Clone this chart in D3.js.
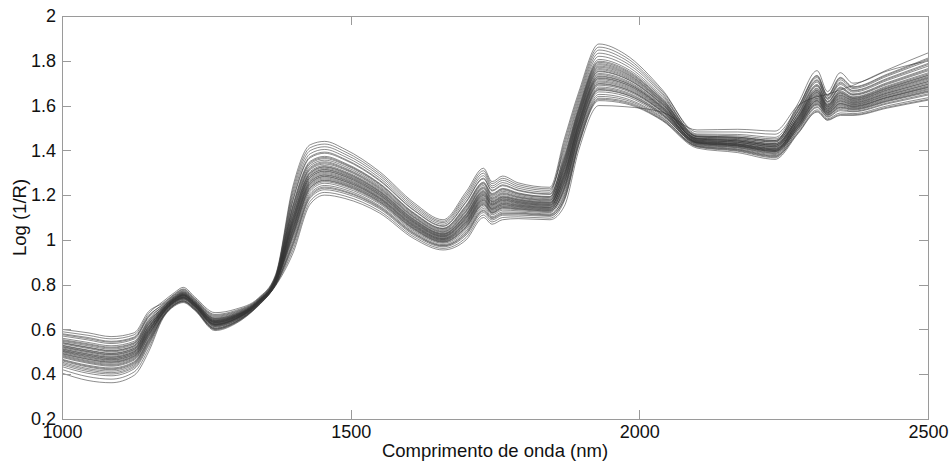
<!DOCTYPE html>
<html>
<head>
<meta charset="utf-8">
<script src="https://cdn.jsdelivr.net/npm/d3@7"></script>
<style>
  html, body { margin: 0; padding: 0; background: #ffffff; }
  svg { display: block; font-family: "Liberation Sans", Arial, sans-serif; }
</style>
</head>
<body>
<script>
// Wavelength grid (nm) shared by every spectrum
const wavelengths = [1000, 1045, 1085, 1125, 1150, 1175, 1195, 1210, 1230, 1265, 1300, 1340, 1370,
  1400, 1430, 1455, 1490, 1550, 1610, 1660, 1700, 1730, 1745, 1763, 1790, 1845,
  1870, 1895, 1930, 1975, 2040, 2100, 2170, 2235,
  2275, 2308, 2326, 2348, 2370, 2430, 2500];

// Log(1/R) spectra, one array per sample
const s01 = [0.600,0.585,0.568,0.585, 0.680,0.718,0.759,0.781,0.739,0.667,0.684,0.737,0.840,
  1.225,1.412,1.428,1.394,1.296,1.157,1.083,1.204,1.309,1.251,1.275,1.247,1.228,
  1.405,1.621,1.834,1.794,1.648, 1.460,1.453,1.437, 1.610,1.756,1.662,1.747,1.700,1.755,1.800];
const s02 = [0.590,0.574,0.558,0.576, 0.671,0.725,0.765,0.788,0.745,0.675,0.690,0.740,0.845,
  1.240,1.425,1.440,1.405,1.305,1.165,1.090,1.215,1.320,1.260,1.285,1.255,1.235,
  1.450,1.660,1.875,1.830,1.670, 1.473,1.471,1.458, 1.592,1.731,1.645,1.722,1.681,1.737,1.807];
const s03 = [0.581,0.564,0.547,0.566, 0.662,0.710,0.753,0.774,0.733,0.659,0.677,0.733,0.835,
  1.195,1.385,1.404,1.372,1.277,1.141,1.070,1.183,1.287,1.232,1.256,1.231,1.213,
  1.420,1.634,1.848,1.806,1.655, 1.464,1.459,1.444, 1.588,1.725,1.641,1.715,1.676,1.732,1.800];
const s04 = [0.571,0.553,0.537,0.557, 0.653,0.703,0.747,0.768,0.727,0.651,0.671,0.730,0.830,
  1.180,1.372,1.392,1.361,1.268,1.133,1.063,1.172,1.276,1.222,1.246,1.223,1.206,
  1.375,1.595,1.806,1.770,1.633, 1.455,1.448,1.430, 1.580,1.715,1.634,1.705,1.668,1.722,1.788];
const s05 = [0.561,0.542,0.527,0.547, 0.644,0.706,0.750,0.771,0.730,0.655,0.674,0.731,0.833,
  1.150,1.346,1.368,1.339,1.250,1.117,1.050,1.151,1.254,1.203,1.227,1.207,1.192,
  1.390,1.608,1.820,1.782,1.640, 1.469,1.465,1.451, 1.573,1.705,1.627,1.694,1.660,1.713,1.776];
const s06 = [0.555,0.536,0.521,0.541, 0.639,0.695,0.741,0.761,0.721,0.643,0.664,0.726,0.825,
  1.156,1.351,1.373,1.343,1.253,1.120,1.052,1.155,1.258,1.207,1.230,1.210,1.194,
  1.354,1.577,1.787,1.753,1.622, 1.451,1.442,1.423, 1.565,1.694,1.619,1.683,1.652,1.703,1.765];
const s07 = [0.547,0.527,0.512,0.534, 0.631,0.699,0.744,0.764,0.724,0.647,0.667,0.728,0.828,
  1.135,1.332,1.356,1.328,1.240,1.109,1.043,1.140,1.243,1.194,1.217,1.199,1.184,
  1.360,1.582,1.793,1.758,1.625, 1.460,1.453,1.437, 1.559,1.686,1.614,1.675,1.646,1.695,1.755];
const s08 = [0.542,0.521,0.506,0.528, 0.626,0.691,0.738,0.757,0.718,0.639,0.661,0.724,0.823,
  1.120,1.319,1.344,1.317,1.231,1.101,1.036,1.129,1.232,1.184,1.207,1.191,1.177,
  1.336,1.561,1.771,1.739,1.613, 1.446,1.436,1.416, 1.553,1.678,1.608,1.666,1.639,1.688,1.746];
const s09 = [0.536,0.515,0.500,0.522, 0.621,0.688,0.735,0.754,0.715,0.635,0.658,0.723,0.820,
  1.126,1.324,1.349,1.321,1.235,1.104,1.039,1.133,1.236,1.188,1.211,1.194,1.180,
  1.324,1.551,1.760,1.729,1.607, 1.455,1.448,1.430, 1.550,1.674,1.605,1.662,1.636,1.684,1.741];
const s10 = [0.530,0.508,0.494,0.517, 0.615,0.694,0.740,0.759,0.720,0.641,0.663,0.725,0.824,
  1.105,1.306,1.332,1.306,1.222,1.093,1.029,1.118,1.221,1.175,1.197,1.183,1.170,
  1.315,1.543,1.751,1.722,1.603, 1.451,1.442,1.423, 1.546,1.667,1.601,1.656,1.631,1.678,1.734];
const s11 = [0.524,0.502,0.488,0.511, 0.610,0.684,0.732,0.751,0.712,0.631,0.654,0.721,0.818,
  1.096,1.298,1.325,1.299,1.216,1.088,1.025,1.112,1.214,1.169,1.191,1.178,1.165,
  1.330,1.556,1.765,1.734,1.610, 1.442,1.430,1.409, 1.543,1.663,1.598,1.652,1.628,1.675,1.729];
const s12 = [0.518,0.496,0.481,0.505, 0.604,0.689,0.736,0.755,0.716,0.637,0.659,0.723,0.821,
  1.090,1.293,1.320,1.295,1.213,1.085,1.023,1.108,1.210,1.165,1.188,1.175,1.163,
  1.300,1.530,1.738,1.710,1.595, 1.448,1.438,1.419, 1.538,1.657,1.594,1.645,1.623,1.669,1.722];
const s13 = [0.514,0.491,0.477,0.501, 0.601,0.680,0.729,0.747,0.709,0.627,0.651,0.719,0.815,
  1.081,1.285,1.313,1.288,1.207,1.080,1.018,1.101,1.203,1.159,1.182,1.170,1.158,
  1.291,1.522,1.729,1.703,1.591, 1.437,1.425,1.402, 1.532,1.649,1.588,1.637,1.617,1.661,1.713];
const s14 = [0.508,0.485,0.471,0.496, 0.595,0.686,0.734,0.753,0.714,0.633,0.656,0.722,0.819,
  1.072,1.277,1.306,1.282,1.201,1.075,1.014,1.095,1.197,1.154,1.176,1.165,1.154,
  1.306,1.535,1.743,1.715,1.598, 1.446,1.436,1.416, 1.528,1.643,1.584,1.630,1.612,1.656,1.706];
const s15 = [0.503,0.479,0.465,0.490, 0.590,0.676,0.726,0.744,0.706,0.623,0.648,0.717,0.813,
  1.060,1.266,1.296,1.273,1.194,1.069,1.009,1.086,1.188,1.146,1.168,1.159,1.148,
  1.276,1.509,1.716,1.691,1.583, 1.440,1.428,1.406, 1.525,1.639,1.581,1.626,1.609,1.652,1.701];
const s16 = [0.497,0.472,0.459,0.484, 0.585,0.682,0.730,0.749,0.710,0.629,0.652,0.720,0.816,
  1.054,1.261,1.291,1.269,1.190,1.066,1.006,1.082,1.184,1.142,1.164,1.156,1.145,
  1.285,1.517,1.724,1.698,1.588, 1.433,1.419,1.395, 1.520,1.632,1.577,1.620,1.604,1.646,1.694];
const s17 = [0.491,0.466,0.453,0.479, 0.579,0.673,0.723,0.740,0.703,0.619,0.645,0.716,0.810,
  1.045,1.253,1.284,1.262,1.185,1.061,1.002,1.075,1.177,1.137,1.158,1.151,1.141,
  1.264,1.499,1.705,1.681,1.577, 1.437,1.425,1.402, 1.517,1.628,1.574,1.616,1.601,1.642,1.689];
const s18 = [0.483,0.457,0.444,0.471, 0.572,0.679,0.728,0.746,0.708,0.625,0.650,0.718,0.814,
  1.030,1.240,1.272,1.251,1.176,1.053,0.996,1.065,1.166,1.127,1.149,1.143,1.134,
  1.255,1.491,1.696,1.674,1.573, 1.428,1.413,1.388, 1.513,1.622,1.570,1.609,1.596,1.637,1.682];
const s19 = [0.475,0.449,0.436,0.463, 0.565,0.669,0.720,0.737,0.700,0.615,0.641,0.714,0.808,
  1.036,1.245,1.277,1.255,1.179,1.056,0.998,1.069,1.170,1.131,1.152,1.146,1.136,
  1.240,1.478,1.683,1.662,1.565, 1.435,1.422,1.399, 1.508,1.616,1.565,1.603,1.591,1.631,1.675];
const s20 = [0.467,0.440,0.428,0.456, 0.558,0.673,0.723,0.740,0.703,0.619,0.645,0.716,0.810,
  1.015,1.226,1.260,1.240,1.166,1.045,0.989,1.054,1.155,1.118,1.139,1.135,1.126,
  1.234,1.473,1.677,1.657,1.562, 1.424,1.407,1.381, 1.502,1.608,1.560,1.594,1.585,1.623,1.666];
const s21 = [0.460,0.432,0.420,0.448, 0.550,0.665,0.717,0.734,0.697,0.611,0.638,0.712,0.805,
  1.006,1.218,1.253,1.233,1.161,1.040,0.985,1.047,1.148,1.112,1.133,1.130,1.122,
  1.216,1.457,1.661,1.643,1.553, 1.430,1.415,1.391, 1.498,1.602,1.556,1.588,1.580,1.618,1.659];
const s22 = [0.448,0.419,0.407,0.437, 0.540,0.661,0.714,0.730,0.694,0.607,0.635,0.710,0.803,
  0.985,1.200,1.236,1.218,1.148,1.029,0.975,1.032,1.133,1.099,1.119,1.119,1.112,
  1.204,1.447,1.650,1.633,1.547, 1.419,1.402,1.374, 1.490,1.591,1.548,1.577,1.572,1.608,1.647];
const s23 = [0.434,0.404,0.393,0.424, 0.527,0.658,0.711,0.727,0.691,0.603,0.632,0.709,0.800,
  0.970,1.187,1.224,1.207,1.139,1.021,0.969,1.022,1.122,1.089,1.110,1.111,1.105,
  1.186,1.431,1.633,1.619,1.538, 1.415,1.396,1.367, 1.483,1.581,1.541,1.567,1.564,1.599,1.635];
const s24 = [0.421,0.389,0.378,0.410, 0.514,0.654,0.708,0.723,0.688,0.599,0.628,0.707,0.798,
  0.955,1.173,1.212,1.196,1.129,1.013,0.962,1.011,1.111,1.080,1.100,1.103,1.097,
  1.174,1.421,1.622,1.609,1.532, 1.410,1.390,1.360, 1.475,1.571,1.534,1.556,1.556,1.589,1.624];
const s25 = [0.405,0.372,0.362,0.395, 0.500,0.650,0.705,0.720,0.685,0.595,0.625,0.705,0.795,
  0.940,1.160,1.200,1.185,1.120,1.005,0.955,1.000,1.100,1.070,1.090,1.095,1.090,
  1.150,1.400,1.600,1.595,1.570, 1.491,1.494,1.486, 1.600,1.640,1.650,1.670,1.690,1.760,1.835];
const s26 = [0.577,0.559,0.543,0.562, 0.658,0.714,0.756,0.778,0.736,0.663,0.680,0.735,0.838,
  1.210,1.399,1.416,1.383,1.287,1.149,1.077,1.194,1.298,1.241,1.266,1.239,1.221,
  1.435,1.647,1.861,1.818,1.663, 1.482,1.482,1.472, 1.595,1.735,1.648,1.726,1.684,1.741,1.812];
const s27 = [0.551,0.532,0.517,0.538, 0.635,0.701,0.746,0.766,0.726,0.649,0.669,0.729,0.829,
  1.174,1.367,1.387,1.357,1.264,1.130,1.060,1.168,1.272,1.218,1.242,1.220,1.203,
  1.366,1.587,1.798,1.763,1.628, 1.464,1.459,1.444, 1.577,1.711,1.631,1.700,1.665,1.718,1.783];
const s28 = [0.540,0.519,0.504,0.526, 0.624,0.697,0.742,0.762,0.722,0.645,0.665,0.727,0.826,
  1.144,1.340,1.363,1.335,1.246,1.114,1.047,1.146,1.250,1.199,1.223,1.204,1.189,
  1.348,1.572,1.782,1.748,1.619, 1.462,1.457,1.441, 1.562,1.690,1.617,1.679,1.649,1.699,1.760];
const s29 = [0.528,0.506,0.492,0.515, 0.613,0.685,0.733,0.751,0.713,0.632,0.655,0.721,0.818,
  1.114,1.314,1.339,1.313,1.227,1.098,1.033,1.125,1.228,1.180,1.203,1.188,1.174,
  1.342,1.566,1.776,1.744,1.616, 1.453,1.445,1.427, 1.547,1.669,1.602,1.658,1.633,1.680,1.736];
const s30 = [0.522,0.500,0.486,0.509, 0.608,0.691,0.738,0.757,0.718,0.639,0.661,0.724,0.823,
  1.084,1.287,1.315,1.291,1.209,1.082,1.020,1.103,1.206,1.161,1.184,1.172,1.160,
  1.318,1.546,1.754,1.724,1.604, 1.444,1.434,1.413, 1.535,1.653,1.591,1.641,1.620,1.665,1.718];
const s31 = [0.512,0.489,0.475,0.500, 0.599,0.683,0.731,0.750,0.711,0.630,0.654,0.720,0.817,
  1.099,1.300,1.327,1.302,1.218,1.090,1.027,1.114,1.217,1.171,1.193,1.180,1.167,
  1.294,1.525,1.732,1.705,1.592, 1.451,1.442,1.423, 1.540,1.659,1.595,1.647,1.625,1.671,1.725];
const s32 = [0.506,0.483,0.469,0.494, 0.594,0.677,0.727,0.744,0.707,0.624,0.648,0.718,0.813,
  1.075,1.279,1.308,1.284,1.203,1.077,1.016,1.097,1.199,1.156,1.178,1.167,1.155,
  1.270,1.504,1.710,1.686,1.580, 1.435,1.422,1.399, 1.529,1.645,1.585,1.633,1.614,1.657,1.708];
const s33 = [0.501,0.476,0.463,0.488, 0.588,0.688,0.735,0.754,0.715,0.635,0.658,0.723,0.820,
  1.066,1.271,1.301,1.277,1.198,1.072,1.012,1.090,1.192,1.150,1.172,1.162,1.151,
  1.282,1.514,1.721,1.696,1.586, 1.442,1.430,1.409, 1.522,1.634,1.578,1.622,1.606,1.648,1.696];
const s34 = [0.493,0.468,0.455,0.481, 0.581,0.675,0.725,0.742,0.705,0.621,0.646,0.717,0.812,
  1.051,1.258,1.289,1.266,1.188,1.064,1.005,1.080,1.181,1.140,1.162,1.154,1.144,
  1.258,1.494,1.699,1.676,1.574, 1.439,1.427,1.405, 1.514,1.624,1.571,1.611,1.598,1.638,1.685];
const s35 = [0.487,0.461,0.449,0.475, 0.576,0.671,0.722,0.739,0.702,0.617,0.643,0.715,0.809,
  1.042,1.250,1.282,1.260,1.183,1.059,1.001,1.073,1.175,1.135,1.156,1.149,1.139,
  1.249,1.486,1.691,1.669,1.570, 1.432,1.418,1.394, 1.511,1.620,1.568,1.607,1.594,1.635,1.680];
const s36 = [0.479,0.453,0.440,0.467, 0.568,0.676,0.725,0.743,0.705,0.622,0.647,0.717,0.812,
  1.024,1.234,1.267,1.247,1.172,1.050,0.993,1.060,1.162,1.123,1.145,1.140,1.131,
  1.228,1.468,1.672,1.652,1.559, 1.426,1.411,1.385, 1.505,1.612,1.563,1.599,1.588,1.627,1.671];
const s37 = [0.464,0.436,0.424,0.452, 0.554,0.667,0.718,0.735,0.698,0.613,0.639,0.713,0.806,
  1.021,1.232,1.265,1.244,1.170,1.048,0.991,1.058,1.159,1.121,1.143,1.138,1.129,
  1.225,1.465,1.669,1.650,1.558, 1.433,1.420,1.396, 1.501,1.606,1.558,1.592,1.583,1.621,1.663];
const s38 = [0.454,0.425,0.414,0.443, 0.545,0.659,0.712,0.728,0.692,0.605,0.633,0.709,0.801,
  0.994,1.208,1.243,1.225,1.153,1.034,0.979,1.039,1.140,1.104,1.125,1.124,1.116,
  1.195,1.439,1.641,1.626,1.543, 1.421,1.404,1.377, 1.493,1.595,1.551,1.582,1.575,1.612,1.652];
const s39 = [0.442,0.412,0.401,0.431, 0.534,0.656,0.710,0.725,0.690,0.601,0.630,0.708,0.799,
  0.979,1.194,1.231,1.214,1.144,1.026,0.973,1.028,1.129,1.095,1.115,1.116,1.109,
  1.180,1.426,1.628,1.614,1.535, 1.417,1.399,1.371, 1.478,1.575,1.537,1.560,1.559,1.593,1.628];

const spectra = [s01, s02, s03, s04, s05, s06, s07, s08, s09, s10, s11, s12, s13,
  s14, s15, s16, s17, s18, s19, s20, s21, s22, s23, s24, s25, s26,
  s27, s28, s29, s30, s31, s32, s33, s34, s35, s36, s37, s38, s39];

// Axis ticks and titles
const xTicks = [1000, 1500, 2000, 2500];
const yTicks = [0.2, 0.4, 0.6, 0.8, 1.0, 1.2, 1.4, 1.6, 1.8, 2.0];
const xTitle = "Comprimento de onda (nm)";
const yTitle = "Log (1/R)";

const W = 951, H = 461;
const plot = { left: 62, right: 928, top: 16, bottom: 419 };
const frameColor = "#9a9a9a";

const svg = d3.select("body").append("svg")
  .attr("width", W).attr("height", H);

svg.append("rect").attr("width", W).attr("height", H).attr("fill", "#ffffff");

const x = d3.scaleLinear().domain([1000, 2500]).range([plot.left, plot.right]);
const y = d3.scaleLinear().domain([0.2, 2]).range([plot.bottom, plot.top]);

// Spectra
const line = d3.line()
  .x((d, i) => x(wavelengths[i]))
  .y(d => y(d))
  .curve(d3.curveMonotoneX);

const clipId = "plot-clip";
svg.append("clipPath").attr("id", clipId)
  .append("rect")
  .attr("x", plot.left).attr("y", plot.top)
  .attr("width", plot.right - plot.left).attr("height", plot.bottom - plot.top);

svg.append("g").attr("clip-path", `url(#${clipId})`)
  .selectAll("path")
  .data(spectra)
  .join("path")
  .attr("d", line)
  .attr("fill", "none")
  .attr("stroke", "#333333")
  .attr("stroke-opacity", 0.75)
  .attr("stroke-width", 0.75);

// Axes: ticks point inward on all four sides (boxed frame)
const fmtY = d3.format("~g");
const fmtX = d3.format("d");
const tickLen = 9;

function styleAxis(g) {
  g.select(".domain").remove();
  g.selectAll(".tick line").attr("stroke", frameColor).attr("shape-rendering", "crispEdges");
  g.selectAll(".tick text").attr("fill", "#111").attr("font-size", 18)
    .attr("font-family", "Liberation Sans, Arial, sans-serif");
}

svg.append("g")
  .attr("transform", `translate(0,${plot.bottom})`)
  .call(d3.axisBottom(x).tickValues(xTicks).tickFormat(fmtX)
    .tickSizeInner(-tickLen).tickSizeOuter(0).tickPadding(6))
  .call(styleAxis);

svg.append("g")
  .attr("transform", `translate(0,${plot.top})`)
  .call(d3.axisTop(x).tickValues(xTicks).tickFormat("")
    .tickSizeInner(-tickLen).tickSizeOuter(0))
  .call(styleAxis);

svg.append("g")
  .attr("transform", `translate(${plot.left},0)`)
  .call(d3.axisLeft(y).tickValues(yTicks).tickFormat(fmtY)
    .tickSizeInner(-tickLen).tickSizeOuter(0).tickPadding(6))
  .call(styleAxis);

svg.append("g")
  .attr("transform", `translate(${plot.right},0)`)
  .call(d3.axisRight(y).tickValues(yTicks).tickFormat("")
    .tickSizeInner(-tickLen).tickSizeOuter(0))
  .call(styleAxis);

// Frame
svg.append("rect")
  .attr("x", plot.left).attr("y", plot.top)
  .attr("width", plot.right - plot.left).attr("height", plot.bottom - plot.top)
  .attr("fill", "none")
  .attr("stroke", frameColor)
  .attr("stroke-width", 1)
  .attr("shape-rendering", "crispEdges");

// Axis titles
svg.append("text")
  .attr("x", (plot.left + plot.right) / 2)
  .attr("y", 457)
  .attr("text-anchor", "middle")
  .attr("font-size", 18.5)
  .attr("fill", "#111")
  .text(xTitle);

svg.append("text")
  .attr("transform", `translate(26,${(plot.top + plot.bottom) / 2}) rotate(-90)`)
  .attr("text-anchor", "middle")
  .attr("font-size", 18.5)
  .attr("fill", "#111")
  .text(yTitle);
</script>
</body>
</html>
